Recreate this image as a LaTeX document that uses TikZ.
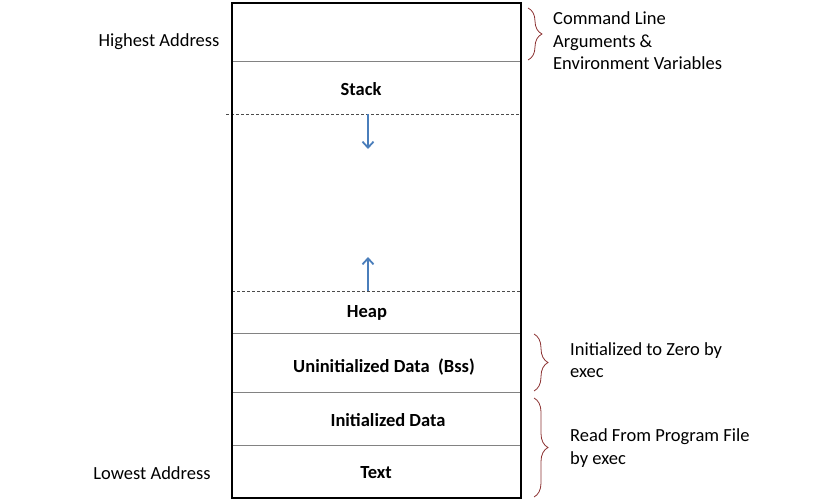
\documentclass[tikz,border=0pt]{standalone}
\usepackage{fontspec}
\setmainfont{Carlito}
\usetikzlibrary{decorations.pathreplacing,arrows.meta}
\definecolor{arrowblue}{RGB}{74,126,187}
\definecolor{bracered}{RGB}{140,50,50}
\definecolor{lightline}{RGB}{130,130,130}

\begin{document}
\begin{tikzpicture}[x=1pt,y=-1pt,
		seg/.style={font=\bfseries\fontsize{18.5}{22}\selectfont, inner sep=0pt},
		side/.style={font=\fontsize{18.5}{22.5}\selectfont, align=left, anchor=west, inner sep=0pt},
		brc/.style={draw=bracered, line width=0.8pt, decorate, decoration={brace, amplitude=14pt}},
		growarrow/.style={-{Straight Barb[length=6pt,width=11pt]}, draw=arrowblue, line width=1.8pt},
		split/.style={draw=lightline, line width=0.8pt},
		gap/.style={draw=black!70, line width=0.7pt, dash pattern=on 3pt off 2pt}]
	\useasboundingbox (0,0) rectangle (840,500);
	% memory column
	\draw[split] (232,61) -- (521,61);
	\draw[split] (232,333) -- (521,333);
	\draw[split] (232,392) -- (521,392);
	\draw[split] (232,445) -- (521,445);
	\draw[gap] (226,114) -- (521,114);
	\draw[gap] (232,291) -- (521,291);
	\draw[line width=1.5pt] (232,3) rectangle (521,498);
	% segments
	\node[seg] (stack) at (361,89) {Stack};
	\node[seg] (heap) at (367,313) {Heap};
	\node[seg] (bss) at (384,367) {Uninitialized Data\ \ (Bss)};
	\node[seg] (data) at (388,420) {Initialized Data};
	\node[seg] (text) at (376,473) {Text};
	% growth
	\coordinate (stacktop) at (368,114);
	\coordinate (stackend) at (368,149);
	\coordinate (heaptop) at (368,291);
	\coordinate (heapend) at (368,257);
	\draw[growarrow] (stacktop) -- (stackend);
	\draw[growarrow] (heaptop) -- (heapend);
	% addresses
	\node[side, anchor=center] (hi) at (159,42) {Highest Address};
	\node[side, anchor=center] (lo) at (152,473) {Lowest Address};
	% braces
	\coordinate (argsa) at (528,8);
	\coordinate (argsb) at (528,60);
	\coordinate (zeroa) at (534,334);
	\coordinate (zerob) at (534,391);
	\coordinate (filea) at (534,398);
	\coordinate (fileb) at (534,497);
	\draw[brc] (argsa) -- (argsb);
	\draw[brc] (zeroa) -- (zerob);
	\draw[brc] (filea) -- (fileb);
	\node[side] (args) at (553,41) {Command Line\\Arguments \&\\Environment Variables};
	\node[side] (zero) at (570,360) {Initialized to Zero by\\exec};
	\node[side] (file) at (570,448) {Read From Program File\\by exec};
\end{tikzpicture}
\end{document}
